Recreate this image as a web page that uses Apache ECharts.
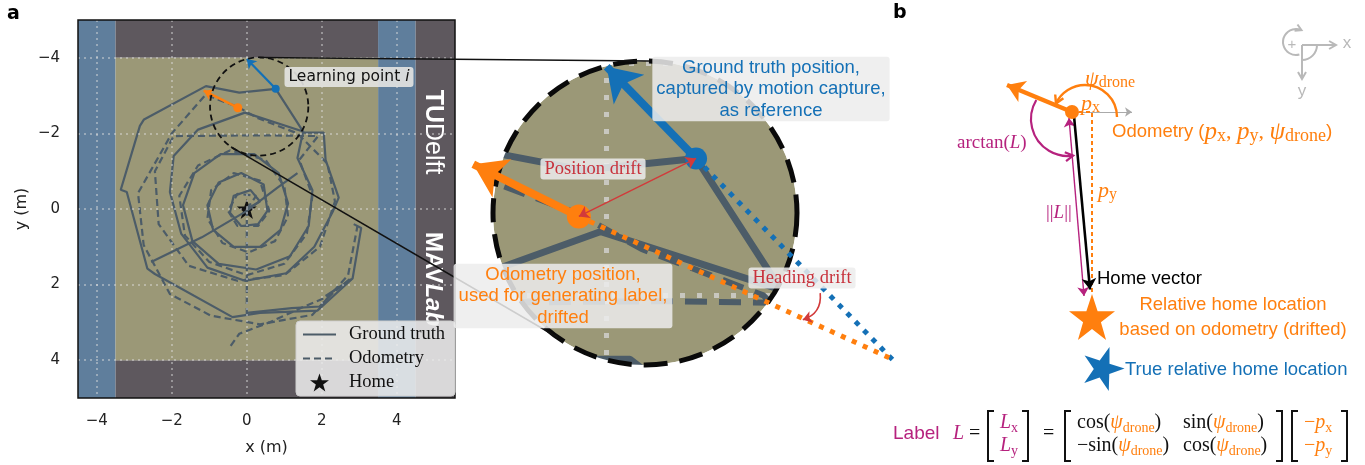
<!DOCTYPE html>
<html>
<head>
<meta charset="utf-8">
<script src="https://cdn.jsdelivr.net/npm/echarts@6/dist/echarts.min.js"></script>
<style>
html, body { margin: 0; padding: 0; background: #fff; }
#main { width: 1365px; height: 465px; }
</style>
</head>
<body>
<div id="main"></div>
<script>
// ---------------- data ----------------
const xTicks = [-4, -2, 0, 2, 4];
const yTicks = [-4, -2, 0, 2, 4];
const xRange = [-4.5, 5.55];
const yRange = [-5, 5];

// arena zones [x1, x2, y1, y2]
const blueZones = [[-4.5, -3.5, -5, 5], [3.5, 4.5, -5, 5]];
const darkZones = [[-3.5, 3.5, -5, -4], [-3.5, 3.5, 4, 5], [4.5, 5.55, -5, 5]];
const floorZones = [[-3.5, 3.5, -4, 4]];

// ground truth track (motion capture)
const groundTruth = [
  [0.0, 0.0], [0.35, -0.2], [0.1, -0.5], [-0.35, -0.35], [-0.45, 0.1], [-0.15, 0.45], [0.3, 0.4], [0.55, 0.05],
  [0.45, -0.65], [-0.15, -0.95], [-0.75, -0.7], [-1.05, -0.1], [-0.9, 0.55], [-0.35, 1.0], [0.35, 1.0], [0.9, 0.55], [1.1, -0.15], [0.85, -0.95],
  [0.2, -1.45], [-0.7, -1.45], [-1.4, -0.95], [-1.7, -0.1], [-1.45, 0.85], [-0.75, 1.45], [0.25, 1.6], [1.15, 1.25], [1.65, 0.45], [1.75, -0.5], [1.35, -1.35],
  [1.5, -2.05], [-0.05, -2.55], [-1.3, -2.1], [-1.95, -1.4], [-2.05, -0.45], [-1.75, 0.65], [-1.05, 1.55], [-0.05, 1.9], [1.05, 1.7], [1.8, 1.0], [2.3, 0.05], [2.45, -0.3], [2.1, -1.3], [2.05, -2.02], [1.52, -2.02], [0.77, -3.18],
  [-0.2, -3.08], [-1.09, -3.25], [-2.74, -2.37], [-2.85, -2.2], [-3.36, -0.51], [-3.2, -0.45], [-2.65, 1.58], [-2.45, 1.72], [-0.38, 2.86], [0.35, 2.75], [1.88, 2.69], [2.82, 1.84], [3.05, 0.5], [2.85, 0.4]
];
const groundTruthTransit = [[-2.55, 1.4], [-1.2, 0.75], [0.0, 0.05], [0.8, -0.55], [1.35, -0.95]];
const groundTruthTail = [[0.0, 2.75], [1.2, 2.62], [1.95, 2.58], [2.3, 2.2], [2.1, 2.3], [2.8, 1.85]];

// odometry track (drifted)
const odometry = [
  [0.0, 0.0], [0.25, -0.35], [-0.25, -0.4], [-0.5, 0.05], [-0.25, 0.45], [0.3, 0.45], [0.6, 0.05],
  [0.35, -0.75], [-0.35, -0.95], [-0.95, -0.5], [-1.05, 0.25], [-0.65, 0.9], [0.05, 1.15], [0.75, 0.85], [1.1, 0.2], [1.0, -0.6],
  [0.5, -1.3], [-0.45, -1.55], [-1.3, -1.15], [-1.8, -0.35], [-1.65, 0.7], [-1.0, 1.4], [0.0, 1.75], [1.0, 1.45], [1.6, 0.65], [1.75, -0.35], [1.4, -1.3],
  [1.9, -1.93], [0.5, -1.95], [-1.95, -1.93], [-2.45, -1.0], [-2.35, 0.4], [-1.55, 1.5], [-0.25, 1.9], [1.0, 1.75], [1.95, 1.0], [2.35, -0.2], [2.15, -1.2], [1.35, -2.0], [0.3, -2.4], [-0.24, -2.7],
  [-1.1, -3.02], [-2.0, -2.0], [-2.9, -0.42], [-2.75, 0.95], [-2.05, 2.25], [-0.96, 2.82], [0.35, 3.05], [1.75, 2.8], [2.7, 1.75], [2.95, 0.45]
];
const odometryTransit = [[0.0, 0.0], [0.0, 2.9]];
const odometryTail = [[-0.43, 3.62], [-0.2, 3.3], [0.6, 3.0], [1.6, 2.55], [2.2, 2.3], [2.76, 1.84]];

const homePos = [0, 0];

// learning point i
const gtPoint = [0.77, -3.18];
const gtHeadTip = [0.0, -3.97];
const odoPoint = [-0.24, -2.68];
const odoHeadTip = [-1.15, -3.13];
const gtTrailEnd = [2.47, -1.44];
const odoTrailEnd = [2.44, -1.46];
const headingDriftArc = [[1.84, -2.02], [1.69, -1.79]];

// zoomed region
const zoomCenter = [0.33, -2.71];
const zoomRadius = 1.31;

// panel b (home location at origin)
const bDrone = [-0.4, -4.1];
const bHeadTip = [-1.7, -4.64];
const bXRefTip = [0.8, -4.1];
const bOffsetPath = [[-0.4, -4.1], [0.0, -4.1], [0.0, -0.48]];
const bHomeVector = [[-0.36, -4.02], [-0.04, -0.55]];
const bNormL = [[-0.46, -3.98], [-0.16, -0.42]];
const bHomeOdo = [0, 0];
const bHomeTrue = [0.22, 1.0];

// ---------------- style ----------------
const SLATE = '#4c5c68';
const BLUE = '#1470b6';
const ORANGE = '#ff7f0e';
const RED = '#c8323c';
const MAGENTA = '#b6227e';
const GRAY = '#b9b9b9';
const OLIVE = '#9b9877';
const STAR = 'path://M50 2 L62 37 L99 37 L69 59 L80 95 L50 73 L20 95 L31 59 L1 37 L38 37 Z';
const SERIF = '"Liberation Serif"';
const SANS = '"Liberation Sans"';

const fmt = v => (v < 0 ? '\u2212' + (-v) : String(v));

function zones(list, color) {
  return list.map(z => [{ coord: [z[0], z[2]], itemStyle: { color } }, { coord: [z[1], z[3]] }]);
}
function track(name, data, grid, width, dash, z) {
  return {
    name, type: 'line', xAxisIndex: grid, yAxisIndex: grid, data, symbol: 'none', showSymbol: false,
    lineStyle: { color: SLATE, width, type: dash || 'solid' }, itemStyle: { color: SLATE }, z, silent: true
  };
}
function arrow(grid, from, to, color, width, size, z, both) {
  return {
    type: 'lines', coordinateSystem: 'cartesian2d', xAxisIndex: grid, yAxisIndex: grid, z, silent: true, clip: false,
    symbol: both ? ['arrow', 'arrow'] : ['none', 'arrow'], symbolSize: size,
    lineStyle: { color, width, opacity: 1, curveness: 0 }, data: [{ coords: [from, to] }]
  };
}
function trail(grid, from, to, color, z) {
  return {
    type: 'lines', coordinateSystem: 'cartesian2d', xAxisIndex: grid, yAxisIndex: grid, z, silent: true, clip: false,
    symbol: 'none', lineStyle: { color, width: 5, opacity: 1, type: [5, 7] }, data: [{ coords: [from, to] }]
  };
}
function dot(grid, p, color, size, z) {
  return { type: 'scatter', xAxisIndex: grid, yAxisIndex: grid, data: [p], symbolSize: size, itemStyle: { color, opacity: 1 }, z, silent: true };
}
function hiddenAxis(grid, range, inverse) {
  return { gridIndex: grid, type: 'value', min: range[0], max: range[1], inverse: !!inverse, show: false, splitLine: { show: false } };
}

const insetX = [zoomCenter[0] - zoomRadius, zoomCenter[0] + zoomRadius];
const insetY = [zoomCenter[1] - zoomRadius, zoomCenter[1] + zoomRadius];

const chart = echarts.init(document.getElementById('main'), null, { renderer: 'canvas' });

const lineLegend = name => ({ name, itemStyle: { color: 'rgba(0,0,0,0)', borderWidth: 0, opacity: 0 } });

const option = {
  animation: false,
  textStyle: { fontFamily: 'DejaVu Sans' },
  legend: {
    data: [lineLegend('Ground truth'), lineLegend('Odometry'), 'Home'],
    orient: 'vertical', left: 296, top: 321, z: 30,
    padding: [4, 10, 4, 6], itemWidth: 33, itemHeight: 18, itemGap: 5,
    backgroundColor: 'rgba(238,238,238,0.86)', borderColor: '#cfcfcf', borderWidth: 1, borderRadius: 4,
    textStyle: { fontFamily: SERIF, fontSize: 18.5, color: '#111', padding: [0, 0, 0, 8] },
    selectedMode: false
  },
  grid: [
    { left: 78, top: 20, width: 377, height: 378, show: true, borderColor: '#111', borderWidth: 1.5, backgroundColor: 'transparent', z: 10 },
    { left: 493, top: 61, width: 304, height: 304 },
    { left: 942, top: 17, width: 400, height: 400 }
  ],
  xAxis: [
    {
      gridIndex: 0, type: 'value', min: xRange[0], max: xRange[1],
      axisLine: { show: false }, splitLine: { show: false },
      axisTick: { show: true, length: 6, customValues: xTicks, lineStyle: { color: '#111', width: 1.3 } },
      axisLabel: { customValues: xTicks, margin: 16, fontSize: 15, color: '#222', fontFamily: 'DejaVu Sans', formatter: fmt },
      name: 'x (m)', nameLocation: 'middle', nameGap: 42,
      nameTextStyle: { fontSize: 16, color: '#222', fontFamily: 'DejaVu Sans' }
    },
    hiddenAxis(1, insetX),
    hiddenAxis(2, [-3, 5])
  ],
  yAxis: [
    {
      gridIndex: 0, type: 'value', min: yRange[0], max: yRange[1], inverse: true,
      axisLine: { show: false }, splitLine: { show: false },
      axisTick: { show: true, length: 6, customValues: yTicks, lineStyle: { color: '#111', width: 1.3 } },
      axisLabel: { customValues: yTicks, margin: 18, fontSize: 15, color: '#222', fontFamily: 'DejaVu Sans', formatter: fmt },
      name: 'y (m)', nameLocation: 'middle', nameGap: 48,
      nameTextStyle: { fontSize: 16, color: '#222', fontFamily: 'DejaVu Sans' }
    },
    hiddenAxis(1, insetY, true),
    hiddenAxis(2, [-6, 2], true)
  ],
  series: [
    // arena background + dotted grid (panel a)
    {
      type: 'line', xAxisIndex: 0, yAxisIndex: 0, data: [], z: 1, silent: true,
      markArea: {
        silent: true,
        data: [].concat(zones(blueZones, '#5f7e9c'), zones(darkZones, '#5e585e'), zones(floorZones, OLIVE))
      },
      markLine: {
        silent: true, symbol: 'none', label: { show: false },
        lineStyle: { color: 'rgba(225,225,225,0.6)', type: [2, 4], width: 1.5 },
        data: xTicks.map(v => ({ xAxis: v })).concat(yTicks.map(v => ({ yAxis: v })))
      }
    },
    track('Ground truth', groundTruth, 0, 2.2, 'solid', 4),
    track('Ground truth', groundTruthTransit, 0, 2.2, 'solid', 4),
    track('Ground truth', groundTruthTail, 0, 2.2, 'solid', 4),
    track('Odometry', odometry, 0, 2.2, [7, 4], 4),
    track('Odometry', odometryTransit, 0, 2.2, [7, 4], 4),
    track('Odometry', odometryTail, 0, 2.2, [7, 4], 4),
    { name: 'Home', type: 'scatter', xAxisIndex: 0, yAxisIndex: 0, data: [homePos], symbol: STAR, symbolSize: 20, itemStyle: { color: '#111', opacity: 1 }, z: 3, silent: true },
    arrow(0, gtPoint, gtHeadTip, BLUE, 2.2, 9, 6),
    arrow(0, odoPoint, odoHeadTip, ORANGE, 2.4, 9, 6),
    dot(0, gtPoint, BLUE, 8, 7),
    dot(0, odoPoint, ORANGE, 9, 7),

    // zoomed inset
    {
      type: 'line', xAxisIndex: 1, yAxisIndex: 1, data: [], z: 2, silent: true,
      markLine: {
        silent: true, symbol: 'none', label: { show: false },
        lineStyle: { color: 'rgba(215,215,215,0.75)', type: [5, 12], width: 5 },
        data: [{ xAxis: 0 }, { yAxis: -2 }, { yAxis: -4 }]
      }
    },
    track('gt-zoom', groundTruth, 1, 7, 'solid', 5),
    track('gt-zoom-2', groundTruthTransit, 1, 7, 'solid', 5),
    track('odo-zoom', odometry, 1, 6, [22, 12], 5),
    track('odo-zoom-2', odometryTransit, 1, 6, [22, 12], 5),
    trail(1, gtPoint, gtTrailEnd, BLUE, 45),
    trail(1, odoPoint, odoTrailEnd, ORANGE, 45),
    arrow(1, gtPoint, gtHeadTip, BLUE, 8, 32, 46),
    arrow(1, odoPoint, odoHeadTip, ORANGE, 8, 32, 46),
    dot(1, gtPoint, BLUE, 22, 47),
    dot(1, odoPoint, ORANGE, 24, 47),
    arrow(1, odoPoint, gtPoint, '#d23a3a', 1.4, 10, 48, true),
    {
      type: 'lines', coordinateSystem: 'cartesian2d', xAxisIndex: 1, yAxisIndex: 1, z: 48, silent: true, clip: false,
      symbol: ['none', 'arrow'], symbolSize: 9,
      lineStyle: { color: '#d23a3a', width: 1.6, opacity: 1, curveness: 0.4 },
      data: [{ coords: headingDriftArc }]
    },

    // panel b
    {
      type: 'line', xAxisIndex: 2, yAxisIndex: 2, data: bOffsetPath, symbol: 'none', z: 5, silent: true,
      lineStyle: { color: ORANGE, width: 2, type: [4, 3] }
    },
    arrow(2, bDrone, bXRefTip, '#aaaaaa', 1, 7, 5),
    arrow(2, bNormL[0], bNormL[1], MAGENTA, 1.4, 9, 6, true),
    arrow(2, bHomeVector[0], bHomeVector[1], '#000', 2.6, 11, 7),
    arrow(2, bDrone, bHeadTip, ORANGE, 4.5, 17, 7),
    dot(2, bDrone, ORANGE, 14, 8),
    { type: 'scatter', xAxisIndex: 2, yAxisIndex: 2, data: [bHomeOdo], symbol: STAR, symbolSize: 46, itemStyle: { color: ORANGE, opacity: 1 }, z: 6, silent: true },
    { type: 'scatter', xAxisIndex: 2, yAxisIndex: 2, data: [bHomeTrue], symbol: STAR, symbolSize: 42, symbolRotate: -18, itemStyle: { color: BLUE, opacity: 1 }, z: 6, silent: true }
  ]
};

chart.setOption(option);

// ---------------- annotations ----------------
const toPx = (g, p) => chart.convertToPixel({ xAxisIndex: g, yAxisIndex: g }, p);
const ctx = document.createElement('canvas').getContext('2d');

function txt(x, y, text, font, fill, align, extra) {
  return {
    type: 'text', x, y, z: 60, silent: true,
    style: Object.assign({ text, font, fill, align: align || 'left', verticalAlign: 'middle' }, extra || {})
  };
}
function run(x, y, pieces, align) {
  let total = 0;
  const ws = pieces.map(p => { ctx.font = p[1]; const w = ctx.measureText(p[0]).width; total += w; return w; });
  let cx = align === 'center' ? x - total / 2 : x;
  return pieces.map((p, i) => { const el = txt(cx, y + (p[3] || 0), p[0], p[1], p[2]); cx += ws[i]; return el; });
}
function poly(points, stroke, width, z, dash) {
  return { type: 'polyline', z: z || 60, silent: true, shape: { points }, style: { stroke, lineWidth: width, fill: null, lineDash: dash || null } };
}
function vhead(tip, ang, size, color, width) {
  const a1 = ang + Math.PI * 5 / 6, a2 = ang - Math.PI * 5 / 6;
  return poly([[tip[0] + size * Math.cos(a1), tip[1] + size * Math.sin(a1)], tip,
    [tip[0] + size * Math.cos(a2), tip[1] + size * Math.sin(a2)]], color, width);
}
function arc(cx, cy, r, a0, a1, cw, color, width) {
  return { type: 'arc', z: 60, silent: true, shape: { cx, cy, r, startAngle: a0, endAngle: a1, clockwise: cw }, style: { stroke: color, lineWidth: width, fill: null } };
}
function bracketPair(xl, xr, top, bot) {
  return [poly([[xl + 6, top], [xl, top], [xl, bot], [xl + 6, bot]], '#111', 2),
          poly([[xr - 6, top], [xr, top], [xr, bot], [xr - 6, bot]], '#111', 2)];
}

const sc = toPx(0, zoomCenter);
const sr = toPx(0, [zoomCenter[0] + zoomRadius, zoomCenter[1]])[0] - sc[0];
const bc = toPx(1, zoomCenter);
const br = toPx(1, [zoomCenter[0] + zoomRadius, zoomCenter[1]])[0] - bc[0];

const g = [];
const deg = Math.PI / 180;

// panel letters
g.push(txt(7, 14, 'a', 'bold 19px "DejaVu Sans"', '#000'));
g.push(txt(893, 13, 'b', 'bold 19px "DejaVu Sans"', '#000'));

// logos on the dark strip
g.push({ type: 'text', x: 433, y: 132, rotation: -Math.PI / 2, z: 3, silent: true,
  style: { text: '{b|TU}{r|Delft}', align: 'center', verticalAlign: 'middle',
    rich: { b: { fontFamily: SANS, fontWeight: 'bold', fontSize: 25, fill: '#fff' }, r: { fontFamily: SANS, fontSize: 25, fill: '#fff' } } } });
g.push({ type: 'text', x: 433, y: 279, rotation: -Math.PI / 2, z: 3, silent: true,
  style: { text: '{b|MAV}{i|Lab}', align: 'center', verticalAlign: 'middle',
    rich: { b: { fontFamily: SANS, fontWeight: 'bold', fontSize: 24, fill: '#fff' }, i: { fontFamily: SANS, fontWeight: 'bold', fontStyle: 'italic', fontSize: 24, fill: '#fff' } } } });

// small zoom circle in panel a
g.push({ type: 'circle', z: 20, silent: true, shape: { cx: sc[0], cy: sc[1], r: sr }, style: { stroke: '#111', lineWidth: 1.8, lineDash: [6, 4], fill: null } });

// big inset circle: fill, white mask around it (square minus disc), dashed border
g.push({ type: 'circle', z: 1, silent: true, shape: { cx: bc[0], cy: bc[1], r: br }, style: { fill: OLIVE } });
const m0 = [bc[0] - br - 6, bc[1] - br - 6], m1 = [bc[0] + br + 6, bc[1] + br + 6];
const maskPts = [[bc[0], m0[1]], [m1[0], m0[1]], [m1[0], m1[1]], [m0[0], m1[1]], [m0[0], m0[1]], [bc[0], m0[1]]];
for (let k = 0; k <= 144; k++) {
  const a = -Math.PI / 2 - k * Math.PI * 2 / 144;
  maskPts.push([bc[0] + br * Math.cos(a), bc[1] + br * Math.sin(a)]);
}
g.push({ type: 'polygon', z: 40, silent: true, shape: { points: maskPts }, style: { fill: '#fff', stroke: null } });
g.push({ type: 'circle', z: 41, silent: true, shape: { cx: bc[0], cy: bc[1], r: br }, style: { stroke: '#0a0a0a', lineWidth: 5, lineDash: [24, 12], fill: null } });

// connector lines
const ang = 125 * deg;
g.push({ type: 'line', z: 42, silent: true, shape: { x1: sc[0], y1: sc[1] - sr, x2: bc[0] + 4, y2: bc[1] - br }, style: { stroke: '#111', lineWidth: 1.5 } });
g.push({ type: 'line', z: 42, silent: true,
  shape: { x1: sc[0] + sr * Math.cos(ang), y1: sc[1] + sr * Math.sin(ang), x2: bc[0] + br * Math.cos(ang), y2: bc[1] + br * Math.sin(ang) },
  style: { stroke: '#111', lineWidth: 1.5 } });

// text boxes
const boxBg = 'rgba(236,236,236,0.86)';
g.push({ type: 'text', x: 349, y: 77, z: 60, silent: true,
  style: { text: '{n|Learning point }{i|i}', align: 'center', verticalAlign: 'middle', backgroundColor: 'rgba(228,228,226,0.9)', padding: [2, 4, 2, 4], borderRadius: 3,
    rich: { n: { fontFamily: 'DejaVu Sans', fontSize: 15.5, fill: '#111' }, i: { fontFamily: 'DejaVu Sans', fontStyle: 'italic', fontSize: 15.5, fill: '#111' } } } });
g.push(txt(771, 89, 'Ground truth position,\ncaptured by motion capture,\nas reference', '18.5px ' + SANS, BLUE, 'center',
  { lineHeight: 21.5, backgroundColor: boxBg, padding: [0, 4, 0, 4], borderRadius: 3 }));
g.push(txt(593, 169, 'Position drift', '18.5px ' + SERIF, RED, 'center', { backgroundColor: boxBg, padding: [1, 4, 1, 4], borderRadius: 3 }));
g.push(txt(563, 296, 'Odometry position,\nused for generating label,\ndrifted', '18.5px ' + SANS, ORANGE, 'center',
  { lineHeight: 21.5, backgroundColor: boxBg, padding: [0, 5, 0, 5], borderRadius: 3 }));
g.push(txt(802, 278, 'Heading drift', '18.5px ' + SERIF, RED, 'center', { backgroundColor: boxBg, padding: [1, 4, 1, 4], borderRadius: 3 }));

// panel b: angle arcs
const D = toPx(2, bDrone);
const psiC = [D[0] + 13, D[1] + 5], psiR = 32, psiEnd = -155 * deg;
g.push(arc(psiC[0], psiC[1], psiR, 0, psiEnd, false, ORANGE, 2.4));
g.push(vhead([psiC[0] + psiR * Math.cos(psiEnd), psiC[1] + psiR * Math.sin(psiEnd)], Math.atan2(-Math.cos(psiEnd), Math.sin(psiEnd)), 9, ORANGE, 2.4));
const atC = [D[0] - 4, D[1] + 7], atR = 37, atStart = 211 * deg, atEnd = 82 * deg;
g.push(arc(atC[0], atC[1], atR, atStart, atEnd, false, MAGENTA, 2.2));
g.push(vhead([atC[0] + atR * Math.cos(atEnd), atC[1] + atR * Math.sin(atEnd)], Math.atan2(-Math.cos(atEnd), Math.sin(atEnd)), 9, MAGENTA, 2.2));

// panel b: labels
const it = s => 'italic ' + s + 'px ' + SERIF;
const rm = s => s + 'px ' + SERIF;
g.push(...run(1085, 79, [['\u03c8', it(22), ORANGE], ['drone', rm(16), ORANGE, 4]]));
g.push(...run(1081, 104, [['p', it(22), ORANGE], ['x', rm(16), ORANGE, 4]]));
g.push(...run(1112, 132, [['Odometry (', '18.5px ' + SANS, ORANGE], ['p', it(25), ORANGE], ['x', rm(18), ORANGE, 4], [', ', rm(22), ORANGE],
  ['p', it(25), ORANGE], ['y', rm(18), ORANGE, 4], [', ', rm(22), ORANGE], ['\u03c8', it(25), ORANGE], ['drone', rm(18), ORANGE, 4], [')', '19px ' + SANS, ORANGE]]));
g.push(...run(957, 143, [['arctan(', rm(19), MAGENTA], ['L', it(19), MAGENTA], [')', rm(19), MAGENTA]]));
g.push(...run(1098, 191, [['p', it(22), ORANGE], ['y', rm(16), ORANGE, 4]]));
g.push(...run(1046, 213, [['||', rm(19), MAGENTA], ['L', it(19), MAGENTA], ['||', rm(19), MAGENTA]]));
g.push(txt(1097, 279, 'Home vector', '18.5px ' + SANS, '#000'));
g.push(txt(1233, 305, 'Relative home location', '18.5px ' + SANS, ORANGE, 'center'));
g.push(txt(1233, 330, 'based on odometry (drifted)', '18.5px ' + SANS, ORANGE, 'center'));
g.push(txt(1125, 370, 'True relative home location', '18.5px ' + SANS, BLUE));

// panel b: orientation icon
g.push(poly([[1302, 45], [1336, 45]], GRAY, 2));
g.push(vhead([1336, 45], 0, 8, GRAY, 2));
g.push(poly([[1302, 45], [1302, 79]], GRAY, 2));
g.push(vhead([1302, 79], Math.PI / 2, 8, GRAY, 2));
g.push(arc(1296, 42, 13, 75 * deg, 295 * deg, true, GRAY, 2));
g.push(vhead([1296 + 13 * Math.cos(295 * deg), 42 + 13 * Math.sin(295 * deg)], Math.atan2(Math.cos(295 * deg), -Math.sin(295 * deg)), 7, GRAY, 2));
g.push(arc(1302, 45, 15, 0, Math.PI / 2, true, GRAY, 2));
g.push(txt(1292, 45, '+', '15px ' + SANS, GRAY, 'center'));
g.push(txt(1347, 43, 'x', '17px ' + SANS, GRAY, 'center'));
g.push(txt(1302, 91, 'y', '17px ' + SANS, GRAY, 'center'));

// formula
const r1 = 423, r2 = 446, F = rm(20), FI = it(20), FS = rm(14);
g.push(txt(893, 434, 'Label', '19px ' + SANS, MAGENTA));
g.push(...run(953, 434, [['L', FI, MAGENTA], [' =', F, '#111']]));
g.push(...bracketPair(988, 1028, 411, 461));
g.push(...run(1000, r1, [['L', FI, MAGENTA], ['x', FS, MAGENTA, 5]]));
g.push(...run(1000, r2, [['L', FI, MAGENTA], ['y', FS, MAGENTA, 5]]));
g.push(txt(1043, 434, '=', F, '#111'));
g.push(...bracketPair(1065, 1282, 411, 461));
const psiPart = [['\u03c8', FI, ORANGE], ['drone', FS, ORANGE, 5], [')', F, '#111']];
g.push(...run(1077, r1, [['cos(', F, '#111']].concat(psiPart)));
g.push(...run(1183, r1, [['sin(', F, '#111']].concat(psiPart)));
g.push(...run(1077, r2, [['\u2212sin(', F, '#111']].concat(psiPart)));
g.push(...run(1183, r2, [['cos(', F, '#111']].concat(psiPart)));
g.push(...bracketPair(1292, 1347, 411, 461));
g.push(...run(1304, r1, [['\u2212', F, ORANGE], ['p', FI, ORANGE], ['x', FS, ORANGE, 5]]));
g.push(...run(1304, r2, [['\u2212', F, ORANGE], ['p', FI, ORANGE], ['y', FS, ORANGE, 5]]));

chart.setOption({ graphic: { elements: g } });
</script>
</body>
</html>
